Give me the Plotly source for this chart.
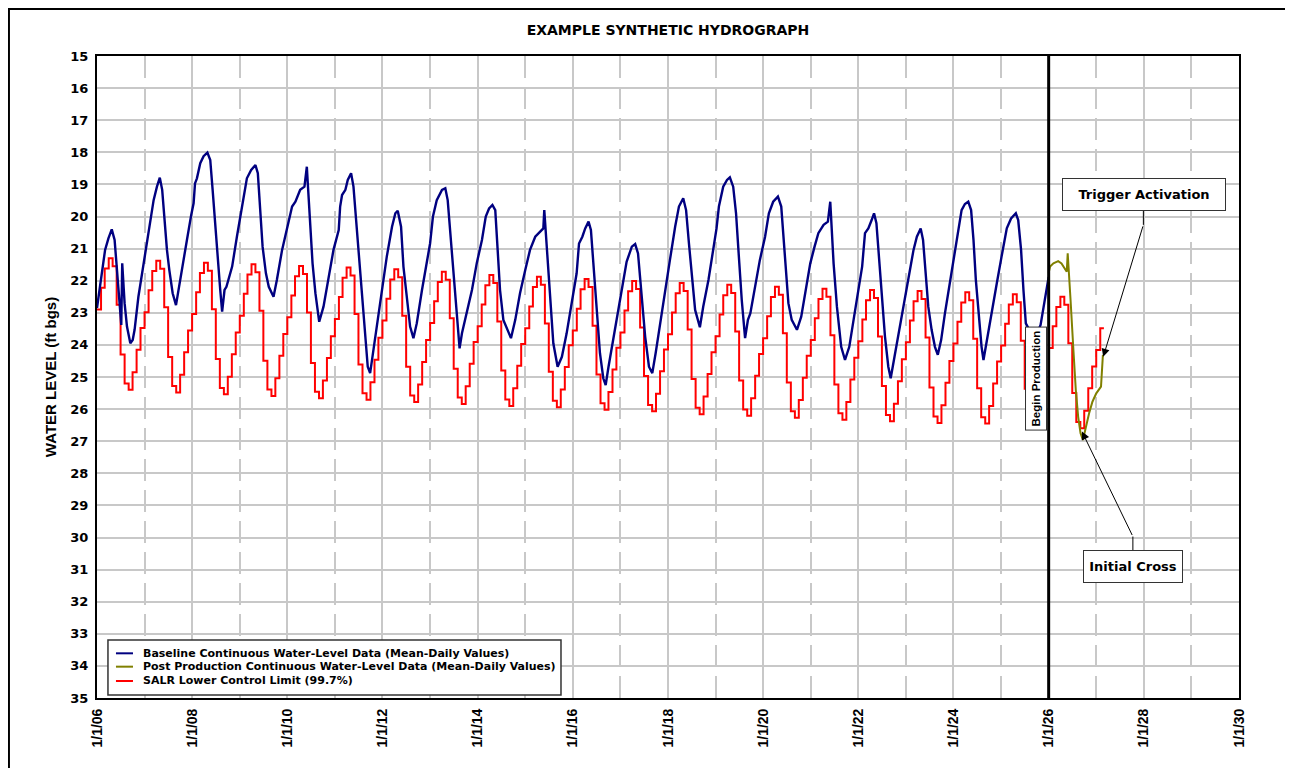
import numpy as np
import pandas as pd
import plotly.graph_objects as go

# ---------------- DATA ----------------
# Baseline continuous water level (decimal year, ft bgs)
baseline_t = [2006.00, 2006.07, 2006.17, 2006.24, 2006.31, 2006.37, 2006.42, 2006.47, 2006.51, 2006.53,
              2006.555, 2006.58, 2006.63, 2006.70, 2006.75, 2006.79, 2006.87, 2006.98, 2007.08, 2007.19,
              2007.26, 2007.32, 2007.37, 2007.41, 2007.47, 2007.52, 2007.59, 2007.66, 2007.71, 2007.80,
              2007.89, 2007.98, 2008.03, 2008.06, 2008.10, 2008.17, 2008.24, 2008.32, 2008.38, 2008.43,
              2008.49, 2008.54, 2008.59, 2008.63, 2008.68, 2008.72, 2008.84, 2008.94, 2009.05, 2009.15,
              2009.24, 2009.33, 2009.38, 2009.43, 2009.48, 2009.55, 2009.61, 2009.71, 2009.78, 2009.89,
              2009.99, 2010.10, 2010.17, 2010.27, 2010.36, 2010.41, 2010.43, 2010.48, 2010.53, 2010.59,
              2010.67, 2010.76, 2010.87, 2010.97, 2011.08, 2011.11, 2011.15, 2011.22, 2011.27, 2011.34,
              2011.39, 2011.44, 2011.50, 2011.57, 2011.64, 2011.69, 2011.74, 2011.79, 2011.88, 2011.99,
              2012.09, 2012.20, 2012.27, 2012.32, 2012.39, 2012.44, 2012.51, 2012.58, 2012.65, 2012.72,
              2012.83, 2012.93, 2013.00, 2013.06, 2013.14, 2013.25, 2013.32, 2013.37, 2013.42, 2013.49,
              2013.56, 2013.62, 2013.67, 2013.77, 2013.88, 2013.98, 2014.09, 2014.17, 2014.24, 2014.31,
              2014.37, 2014.42, 2014.47, 2014.54, 2014.61, 2014.70, 2014.79, 2014.89, 2015.00, 2015.10,
              2015.21, 2015.31, 2015.38, 2015.40, 2015.43, 2015.47, 2015.52, 2015.59, 2015.68, 2015.77,
              2015.87, 2015.98, 2016.08, 2016.13, 2016.20, 2016.26, 2016.33, 2016.38, 2016.43, 2016.50,
              2016.57, 2016.64, 2016.69, 2016.75, 2016.85, 2016.96, 2017.06, 2017.13, 2017.24, 2017.31,
              2017.37, 2017.43, 2017.52, 2017.60, 2017.67, 2017.74, 2017.83, 2017.94, 2018.04, 2018.15,
              2018.23, 2018.32, 2018.38, 2018.44, 2018.51, 2018.57, 2018.67, 2018.74, 2018.85, 2018.95,
              2019.02, 2019.07, 2019.16, 2019.24, 2019.30, 2019.37, 2019.43, 2019.48, 2019.55, 2019.62,
              2019.68, 2019.73, 2019.83, 2019.93, 2020.04, 2020.12, 2020.21, 2020.31, 2020.38, 2020.42,
              2020.47, 2020.53, 2020.60, 2020.71, 2020.80, 2020.88, 2020.99, 2021.08, 2021.16, 2021.27,
              2021.36, 2021.41, 2021.43, 2021.48, 2021.55, 2021.64, 2021.72, 2021.81, 2021.90, 2022.00,
              2022.08, 2022.14, 2022.21, 2022.28, 2022.33, 2022.38, 2022.43, 2022.49, 2022.56, 2022.63,
              2022.68, 2022.76, 2022.87, 2022.97, 2023.08, 2023.16, 2023.23, 2023.31, 2023.36, 2023.42,
              2023.47, 2023.54, 2023.61, 2023.67, 2023.74, 2023.82, 2023.93, 2024.02, 2024.09, 2024.17,
              2024.24, 2024.31, 2024.37, 2024.42, 2024.47, 2024.54, 2024.59, 2024.63, 2024.70, 2024.80,
              2024.91, 2025.01, 2025.12, 2025.21, 2025.31, 2025.36, 2025.42, 2025.47, 2025.52, 2025.58,
              2025.68, 2025.83, 2026.00]
baseline_wl = [22.85, 22.08, 21.04, 20.68, 20.40, 20.73, 21.77, 22.60, 23.38, 21.46,
               22.00, 22.70, 23.43, 23.95, 23.85, 23.53, 22.50, 21.46, 20.42, 19.49,
               19.07, 18.79, 19.17, 20.00, 21.04, 21.67, 22.39, 22.76, 22.29, 21.56,
               20.73, 19.95, 19.59, 18.97, 18.81, 18.34, 18.12, 18.01, 18.24, 19.17,
               20.42, 21.46, 22.29, 22.96, 22.29, 22.19, 21.56, 20.63, 19.69, 18.81,
               18.55, 18.40, 18.65, 19.69, 20.94, 21.77, 22.19, 22.50, 21.98, 21.04,
               20.37, 19.69, 19.54, 19.17, 19.07, 18.45, 18.97, 20.21, 21.46, 22.39,
               23.28, 22.81, 21.88, 21.04, 20.42, 19.69, 19.33, 19.17, 18.86, 18.65,
               19.07, 20.00, 21.15, 22.50, 23.85, 24.68, 24.88, 24.37, 23.33, 22.29,
               21.25, 20.32, 19.90, 19.82, 20.32, 21.56, 22.60, 23.43, 23.79, 23.33,
               22.29, 21.36, 20.84, 20.00, 19.49, 19.17, 19.12, 19.49, 20.42, 21.77,
               23.12, 24.11, 23.64, 23.02, 22.29, 21.46, 20.73, 20.00, 19.75, 19.64,
               19.80, 21.04, 22.29, 23.22, 23.48, 23.79, 23.22, 22.39, 21.67, 21.04,
               20.63, 20.47, 20.37, 19.80, 20.42, 21.36, 22.60, 23.95, 24.68, 24.37,
               23.64, 22.70, 21.77, 20.84, 20.63, 20.37, 20.16, 20.42, 21.46, 22.81,
               24.26, 25.04, 25.25, 24.68, 23.85, 22.81, 21.98, 21.41, 20.94, 20.86,
               21.15, 22.29, 23.74, 24.68, 24.88, 24.26, 23.43, 22.39, 21.36, 20.32,
               19.69, 19.43, 19.80, 20.84, 22.08, 22.91, 23.45, 22.81, 21.98, 21.04,
               20.37, 19.69, 19.07, 18.86, 18.78, 19.07, 19.90, 21.04, 22.60, 23.79,
               23.22, 23.02, 22.19, 21.36, 20.63, 19.90, 19.54, 19.38, 19.69, 20.52,
               21.77, 22.70, 23.22, 23.53, 23.12, 22.39, 21.46, 20.94, 20.52, 20.26,
               20.16, 19.54, 20.11, 21.46, 22.81, 24.06, 24.47, 24.06, 23.22, 22.29,
               21.56, 20.52, 20.37, 20.11, 19.90, 20.21, 21.25, 22.60, 23.74, 24.68,
               25.04, 24.37, 23.43, 22.60, 21.77, 21.04, 20.63, 20.37, 20.73, 21.77,
               22.81, 23.53, 24.06, 24.31, 23.85, 23.02, 21.98, 21.15, 20.42, 19.80,
               19.61, 19.54, 19.80, 20.73, 21.98, 23.22, 24.06, 24.47, 23.85, 23.02,
               22.08, 21.25, 20.37, 20.06, 19.90, 20.11, 21.04, 22.29, 23.33, 23.50,
               23.90, 23.38, 21.88]

# Post production continuous water level (decimal year, ft bgs)
post_t = [2026.00, 2026.03, 2026.10, 2026.20, 2026.27, 2026.33, 2026.38, 2026.40, 2026.42, 2026.46,
          2026.52, 2026.57, 2026.62, 2026.67, 2026.72, 2026.78, 2026.85, 2026.92, 2027.00, 2027.10,
          2027.12, 2027.14]
post_wl = [21.75, 21.56, 21.46, 21.39, 21.46, 21.61, 21.72, 21.15, 21.77, 22.60,
           24.16, 25.40, 26.24, 26.75, 26.96, 26.55, 26.13, 25.77, 25.51, 25.30,
           24.78, 24.31]

# SALR lower control limit, monthly values (Jan..Dec), baseline period 2006-2025
salr_baseline_rows = [
    [22.90, 22.22, 21.62, 21.30, 21.55, 22.75, 24.30, 25.20, 25.40, 24.85, 24.15, 23.47],  # 2006
    [22.98, 22.30, 21.70, 21.38, 21.63, 22.83, 24.38, 25.28, 25.48, 24.93, 24.23, 23.55],  # 2007
    [23.04, 22.36, 21.76, 21.44, 21.69, 22.89, 24.44, 25.34, 25.54, 24.99, 24.29, 23.61],  # 2008
    [23.09, 22.41, 21.81, 21.49, 21.74, 22.94, 24.49, 25.39, 25.59, 25.04, 24.34, 23.66],  # 2009
    [23.14, 22.46, 21.86, 21.54, 21.79, 22.99, 24.56, 25.46, 25.66, 25.11, 24.41, 23.73],  # 2010
    [23.19, 22.51, 21.91, 21.59, 21.84, 23.04, 24.61, 25.51, 25.71, 25.16, 24.46, 23.78],  # 2011
    [23.24, 22.56, 21.96, 21.64, 21.89, 23.09, 24.68, 25.58, 25.78, 25.23, 24.53, 23.85],  # 2012
    [23.32, 22.64, 22.04, 21.72, 21.97, 23.17, 24.74, 25.64, 25.84, 25.29, 24.59, 23.91],  # 2013
    [23.42, 22.74, 22.14, 21.82, 22.07, 23.27, 24.80, 25.70, 25.90, 25.35, 24.65, 23.97],  # 2014
    [23.48, 22.80, 22.20, 21.88, 22.13, 23.33, 24.84, 25.74, 25.94, 25.39, 24.69, 24.01],  # 2015
    [23.55, 22.87, 22.27, 21.95, 22.20, 23.40, 24.92, 25.82, 26.02, 25.47, 24.77, 24.09],  # 2016
    [23.61, 22.93, 22.33, 22.01, 22.26, 23.46, 24.97, 25.87, 26.07, 25.52, 24.82, 24.14],  # 2017
    [23.67, 22.99, 22.39, 22.07, 22.32, 23.52, 25.06, 25.96, 26.16, 25.61, 24.91, 24.23],  # 2018
    [23.73, 23.05, 22.45, 22.13, 22.38, 23.58, 25.11, 26.01, 26.21, 25.66, 24.96, 24.28],  # 2019
    [23.79, 23.11, 22.51, 22.19, 22.44, 23.64, 25.17, 26.07, 26.27, 25.72, 25.02, 24.34],  # 2020
    [23.85, 23.17, 22.57, 22.25, 22.50, 23.70, 25.23, 26.13, 26.33, 25.78, 25.08, 24.40],  # 2021
    [23.89, 23.21, 22.61, 22.29, 22.54, 23.74, 25.28, 26.18, 26.38, 25.83, 25.13, 24.45],  # 2022
    [23.92, 23.24, 22.64, 22.32, 22.57, 23.77, 25.33, 26.23, 26.43, 25.88, 25.18, 24.50],  # 2023
    [23.96, 23.28, 22.68, 22.36, 22.61, 23.81, 25.35, 26.25, 26.45, 25.90, 25.20, 24.52],  # 2024
    [24.02, 23.34, 22.74, 22.42, 22.67, 23.87, 25.40],                                     # 2025
]
# SALR lower control limit, monthly values, post production period 2026-2027
salr_post_rows = [
    [24.10, 23.42, 22.82, 22.50, 22.75, 23.95, 25.50, 26.40, 26.60, 26.05, 25.35, 24.67],  # 2026
    [24.16, 23.48, 23.48],                                                                 # 2027
]

x_tick_vals = ["2006-01-01", "2008-01-01", "2010-01-01", "2012-01-01", "2014-01-01", "2016-01-01",
               "2018-01-01", "2020-01-01", "2022-01-01", "2024-01-01", "2026-01-01", "2028-01-01",
               "2030-01-01"]
x_tick_labels = ["1/1/06", "1/1/08", "1/1/10", "1/1/12", "1/1/14", "1/1/16", "1/1/18", "1/1/20",
                 "1/1/22", "1/1/24", "1/1/26", "1/1/28", "1/1/30"]
y_tick_vals = list(range(15, 36))

series_names = ["Baseline Continuous Water-Level Data (Mean-Daily Values)",
                "Post Production Continuous Water-Level Data (Mean-Daily Values)",
                "SALR Lower Control Limit (99.7%)"]
series_colors = ["#000080", "#808000", "#ff0000"]

production_start = "2026-01-01"

# ---------------- HELPERS ----------------
def to_date(t):
    t = np.asarray(t, dtype=float)
    return pd.Timestamp("2006-01-01") + pd.to_timedelta((t - 2006.0) * 365.25, unit="D")

def one_date(t):
    return (pd.Timestamp("2006-01-01") + pd.Timedelta(days=(t - 2006.0) * 365.25)).strftime("%Y-%m-%d %H:%M")

salr_base_vals = [v for row in salr_baseline_rows for v in row]
salr_base_dates = pd.date_range("2006-01-01", periods=len(salr_base_vals), freq="MS")
salr_post_vals = [v for row in salr_post_rows for v in row]
salr_post_dates = pd.date_range("2026-01-01", periods=len(salr_post_vals), freq="MS")

WIDE = "DejaVu Sans, Verdana, sans-serif"
ARIAL = "Liberation Sans, Arial, sans-serif"
GRID = "#c8c8c8"

fig = go.Figure()

fig.add_trace(go.Scatter(x=salr_base_dates, y=salr_base_vals, mode="lines",
                         line=dict(color=series_colors[2], width=2, shape="hv"),
                         name=series_names[2], showlegend=False))
fig.add_trace(go.Scatter(x=salr_post_dates, y=salr_post_vals, mode="lines",
                         line=dict(color=series_colors[2], width=2, shape="hv"),
                         name=series_names[2], showlegend=False))
fig.add_trace(go.Scatter(x=to_date(baseline_t), y=baseline_wl, mode="lines",
                         line=dict(color=series_colors[0], width=2.4),
                         name=series_names[0], showlegend=False))
fig.add_trace(go.Scatter(x=to_date(post_t), y=post_wl, mode="lines",
                         line=dict(color=series_colors[1], width=2),
                         name=series_names[1], showlegend=False))

# Begin production vertical line
fig.add_shape(type="line", xref="x", yref="y", x0=production_start, x1=production_start,
              y0=15, y1=35, line=dict(color="black", width=3), layer="above")

# Begin Production label
fig.add_annotation(x=one_date(2025.74), y=25.04, xref="x", yref="y", text="<b>Begin Production</b>",
                   textangle=-90, showarrow=False, font=dict(family=ARIAL, size=11.5, color="black"),
                   bgcolor="white", bordercolor="#333333", borderwidth=1, borderpad=2,
                   width=98, height=16)

# Trigger Activation callout
fig.add_annotation(x=one_date(2027.995), y=19.30, xref="x", yref="y", text="<b>Trigger Activation</b>",
                   showarrow=False, font=dict(family=WIDE, size=13, color="black"),
                   bgcolor="white", bordercolor="#333333", borderwidth=1, borderpad=3,
                   width=156, height=25)
fig.add_shape(type="line", xref="x", yref="y", x0=one_date(2027.99), x1=one_date(2027.99),
              y0=19.82, y1=20.26, line=dict(color="black", width=1))
fig.add_annotation(x=one_date(2027.147), y=24.37, xref="x", yref="y", ax=one_date(2027.99), ay=20.26,
                   axref="x", ayref="y", text="", showarrow=True, arrowhead=2, arrowsize=1.6,
                   arrowwidth=1, arrowcolor="black")

# Initial Cross callout
fig.add_annotation(x=one_date(2027.77), y=30.91, xref="x", yref="y", text="<b>Initial Cross</b>",
                   showarrow=False, font=dict(family=WIDE, size=13, color="black"),
                   bgcolor="white", bordercolor="#333333", borderwidth=1, borderpad=3,
                   width=92, height=25)
fig.add_shape(type="line", xref="x", yref="y", x0=one_date(2027.77), x1=one_date(2027.77),
              y0=30.39, y1=29.97, line=dict(color="black", width=1))
fig.add_annotation(x=one_date(2026.70), y=26.70, xref="x", yref="y", ax=one_date(2027.77), ay=29.97,
                   axref="x", ayref="y", text="", showarrow=True, arrowhead=2, arrowsize=1.6,
                   arrowwidth=1, arrowcolor="black")

# Legend (drawn box, keys and labels)
fig.add_shape(type="rect", xref="paper", yref="paper", x0=0.0096, x1=0.4063, y0=0.0047, y1=0.0903,
              line=dict(color="#333333", width=1.5), fillcolor="white", layer="above")
legend_rows_y = [0.0696, 0.0488, 0.0265]
for name, color, ly in zip(series_names, series_colors, legend_rows_y):
    fig.add_shape(type="line", xref="paper", yref="paper", x0=0.0166, x1=0.0315, y0=ly, y1=ly,
                  line=dict(color=color, width=2), layer="above")
    fig.add_annotation(x=0.0388, y=ly, xref="paper", yref="paper", xanchor="left", yanchor="middle",
                       text="<b>" + name + "</b>", showarrow=False,
                       font=dict(family=WIDE, size=11, color="black"))

# Outer frame of the whole chart
fig.add_shape(type="rect", xref="paper", yref="paper", x0=-0.0771, x1=1.0429, y0=-0.16, y1=1.0732,
              line=dict(color="black", width=2), fillcolor="rgba(0,0,0,0)", layer="below")

fig.update_layout(
    width=1293, height=768,
    margin=dict(l=89, r=62, t=48, b=78),
    paper_bgcolor="white", plot_bgcolor="white",
    font=dict(family=WIDE, color="black"),
    title=dict(text="<b>EXAMPLE SYNTHETIC HYDROGRAPH</b>", x=0.5, xref="paper", y=1 - 22 / 768,
               yanchor="middle", font=dict(family=WIDE, size=14, color="black")),
    showlegend=False,
)

fig.update_xaxes(
    type="date", range=["2006-01-01", "2030-01-01"],
    tickmode="array", tickvals=x_tick_vals, ticktext=x_tick_labels, tickangle=-90,
    tickfont=dict(family=ARIAL, size=14, color="black", weight="bold"),
    ticklabelstandoff=3,
    showgrid=True, gridcolor=GRID, gridwidth=1.5,
    minor=dict(dtick="M12", tick0="2006-01-01", showgrid=True, gridcolor=GRID, gridwidth=1.5,
               griddash="22px,9px", ticks=""),
    showline=True, linecolor="black", linewidth=2, mirror=True, ticks="", zeroline=False,
)
fig.update_yaxes(
    range=[35, 15], tickmode="array", tickvals=y_tick_vals,
    tickfont=dict(family=WIDE, size=13, color="black", weight="bold"),
    ticklabelstandoff=4,
    showgrid=True, gridcolor=GRID, gridwidth=1.5,
    showline=True, linecolor="black", linewidth=2, mirror=True, ticks="", zeroline=False,
    title=dict(text="<b>WATER LEVEL (ft bgs)</b>", font=dict(family=ARIAL, size=15, color="black"),
               standoff=10),
)

fig.write_html("out.html")
